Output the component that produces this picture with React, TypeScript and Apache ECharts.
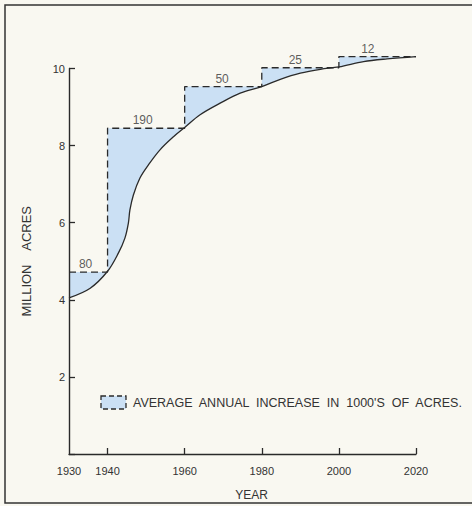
import React, { useEffect, useRef } from "react";
import * as echarts from "echarts";

// Growth curve (million acres)
const CURVE_YEARS = [1930, 1935.5, 1940, 1942.8, 1944.5, 1945.4, 1945.8, 1946.7, 1948.4, 1950.6, 1953.6, 1957.1, 1960, 1964, 1969.2, 1974.4, 1980, 1984.8, 1990, 1995.2, 2000, 2006.4, 2012.5, 2020];
const CURVE_VALUES = [4.05, 4.3, 4.74, 5.21, 5.6, 5.99, 6.33, 6.72, 7.16, 7.5, 7.89, 8.23, 8.47, 8.8, 9.1, 9.36, 9.53, 9.72, 9.88, 9.98, 10.04, 10.18, 10.25, 10.31];

// Step (average annual increase) segments
const STEP_STARTS = [1930, 1940, 1960, 1980, 2000];
const STEP_ENDS = [1940, 1960, 1980, 2000, 2020];
const STEP_LEVELS = [4.72, 8.45, 9.53, 10.02, 10.31];
const STEP_RATES = [80, 190, 50, 25, 12];
const RATE_LABEL_YEARS = [1934.3, 1949.1, 1969.7, 1988.7, 2007.5];

// Axes
const X_LABEL_YEARS = [1930, 1940, 1960, 1980, 2000, 2020];
const X_TICK_YEARS = [1940, 1960, 1980, 2000, 2020];

const INK = "#2a2a2a";
const TXT = "#333333";
const BG = "#f9f8f1";
const BLUE = "#cbe0f4";
const FONT = "Liberation Sans";

export default function App() {
  const ref = useRef<HTMLDivElement>(null);

  useEffect(() => {
    if (!ref.current) return;
    const chart = echarts.init(ref.current, undefined, { renderer: "svg" });

    const curve = CURVE_YEARS.map((y, i) => [y, CURVE_VALUES[i]]);
    const steps: number[][] = [];
    STEP_STARTS.forEach((s, i) => {
      steps.push([s, STEP_LEVELS[i]]);
      steps.push([STEP_ENDS[i], STEP_LEVELS[i]]);
    });
    const rateLabels = RATE_LABEL_YEARS.map((y, i) => [y, STEP_LEVELS[i], STEP_RATES[i]]);

    chart.setOption({
      animation: false,
      backgroundColor: BG,
      grid: { left: 69, right: 56, top: 68.5, bottom: 51.5 },
      xAxis: {
        type: "value",
        min: 1930,
        max: 2020,
        interval: 10,
        z: 10,
        name: "YEAR",
        nameLocation: "middle",
        nameGap: 35,
        nameTextStyle: { fontFamily: FONT, fontSize: 12, color: TXT, padding: [0, 0, 0, 18] },
        axisLine: { show: true, lineStyle: { color: INK, width: 1.4 } },
        axisTick: { show: true, inside: true, length: 6, customValues: X_TICK_YEARS, lineStyle: { color: INK, width: 1.3 } },
        axisLabel: { customValues: X_LABEL_YEARS, margin: 11, fontFamily: FONT, fontSize: 11, color: TXT, formatter: (v: number) => String(v) },
        splitLine: { show: false },
      },
      yAxis: {
        type: "value",
        min: 0,
        max: 10,
        interval: 2,
        z: 10,
        name: "MILLION    ACRES",
        nameLocation: "middle",
        nameGap: 36,
        nameRotate: 90,
        nameTextStyle: { fontFamily: FONT, fontSize: 13, color: TXT },
        axisLine: { show: true, lineStyle: { color: INK, width: 1.4 } },
        axisTick: { show: true, inside: true, length: 6, lineStyle: { color: INK, width: 1.3 } },
        axisLabel: { margin: 4, fontFamily: FONT, fontSize: 11, color: TXT, formatter: (v: number) => (v === 0 ? "" : String(v)) },
        splitLine: { show: false },
      },
      series: [
        {
          type: "line",
          data: steps,
          symbol: "none",
          clip: false,
          z: 1,
          lineStyle: { width: 0, opacity: 0 },
          areaStyle: { color: BLUE, opacity: 1, origin: "start" },
          silent: true,
        },
        {
          type: "line",
          data: curve,
          symbol: "none",
          smooth: 0.35,
          clip: false,
          z: 1,
          lineStyle: { width: 0, opacity: 0 },
          areaStyle: { color: BG, opacity: 1, origin: "start" },
          silent: true,
        },
        {
          type: "line",
          data: steps,
          symbol: "none",
          clip: false,
          z: 3,
          lineStyle: { color: INK, width: 1.3, type: [7, 4] },
          silent: true,
        },
        {
          type: "line",
          data: curve,
          symbol: "none",
          smooth: 0.35,
          clip: false,
          z: 4,
          lineStyle: { color: INK, width: 1.3 },
          silent: true,
        },
        {
          type: "scatter",
          data: rateLabels,
          symbolSize: 0,
          clip: false,
          z: 5,
          itemStyle: { color: TXT },
          label: {
            show: true,
            position: "top",
            distance: 2,
            fontFamily: FONT,
            fontSize: 12,
            color: TXT,
            textBorderWidth: 0,
            formatter: (p: any) => String(p.value[2]),
          },
          silent: true,
        },
      ],
      graphic: [
        {
          type: "rect",
          z: 100,
          shape: { x: 5, y: 5, width: 480, height: 498 },
          style: { fill: "none", stroke: "#333", lineWidth: 1.5 },
        },
        {
          type: "rect",
          z: 100,
          shape: { x: 101, y: 396, width: 25, height: 13 },
          style: { fill: BLUE, stroke: INK, lineWidth: 1.3, lineDash: [5, 3] },
        },
        {
          type: "text",
          z: 100,
          x: 133,
          y: 403,
          style: {
            text: "AVERAGE  ANNUAL  INCREASE  IN  1000'S  OF  ACRES.",
            fontFamily: FONT,
            fontSize: 12.5,
            fill: TXT,
            verticalAlign: "middle",
            align: "left",
          },
        },
      ],
    });

    return () => chart.dispose();
  }, []);

  return (
    <div
      ref={ref}
      style={{ position: "fixed", left: 0, top: 0, width: 472, height: 506 }}
    />
  );
}
